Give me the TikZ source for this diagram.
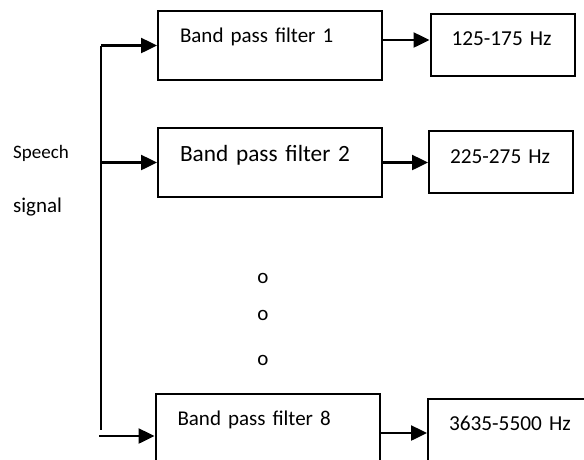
\documentclass[tikz,border=0pt]{standalone}
\usepackage{fontspec}
\setmainfont{Carlito}[WordSpace=0.7]
\usepackage{tikz}
\usetikzlibrary{arrows.meta,positioning,calc}

\begin{document}
\begin{tikzpicture}[
  x=1pt, y=-1pt,
  filt/.style={draw, line width=2pt, text width=180pt, inner xsep=22pt, inner ysep=0pt, minimum height=69pt, align=left, font=\fontsize{21}{25}\selectfont, text height=12pt, text depth=19pt},
  band/.style={draw, line width=2pt, text width=102pt, inner xsep=21pt, inner ysep=0pt, minimum height=62pt, align=left, font=\fontsize{21.3}{25}\selectfont, text height=15pt, text depth=14pt},
  arr/.style={-{Triangle[length=16pt, width=15pt]}, line width=2.5pt},
  lbl/.style={anchor=base west, inner sep=0pt},
  dot/.style={inner sep=0pt, font=\fontsize{21}{25}\selectfont},
]
  \clip (0,0) rectangle (584,459);

  \node[filt] (bpf1) at (270,45.5) {Band pass filter 1};
  \node[filt, font=\fontsize{23.3}{28}\selectfont, text height=14pt, text depth=17pt] (bpf2) at (270,162.5) {Band pass filter 2};
  \node[filt] (bpf8) at (267.5,428.5) {Band pass filter 8};

  \node[band] (out1) at (502.5,44.5) {125-175 Hz};
  \node[band, text height=15pt, text depth=13pt] (out2) at (501,162) {225-275 Hz};
  \node[band, text width=125pt] (out8) at (511.5,430) {3635-5500 Hz};

  \node[lbl, font=\fontsize{19}{23}\selectfont] (speech) at (13,158) {Speech};
  \node[lbl, font=\fontsize{21}{25}\selectfont] (signal) at (13,212) {signal};

  \node[dot] (dot1) at (263,278) {o};
  \node[dot] (dot2) at (263,315) {o};
  \node[dot] (dot3) at (263,360) {o};

  \coordinate (top) at (101,45.5);
  \coordinate (mid) at (101,162.5);
  \coordinate (bot) at (101,430);
  \coordinate (in8) at (99,436);

  \draw[line width=2pt] (top) -- (bot);
  \draw[arr] (top) -- (top -| bpf1.west);
  \draw[arr] (mid) -- (mid -| bpf2.west);
  \draw[arr] (in8) -- (in8 -| bpf8.west);

  \draw[arr] ([yshift=5.5pt]bpf1.east) coordinate (o1) -- (o1 -| out1.west);
  \draw[arr] (bpf2.east) -- (bpf2.east -| out2.west);
  \draw[arr] ([yshift=-4.5pt]bpf8.east) coordinate (o8) -- (o8 -| out8.west);
\end{tikzpicture}
\end{document}
